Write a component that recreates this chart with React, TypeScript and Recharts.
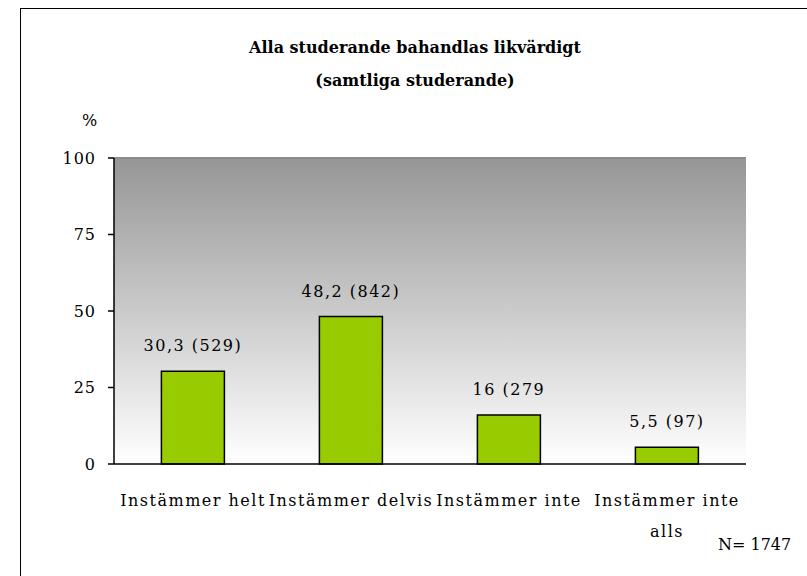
import { BarChart, Bar, XAxis, YAxis, CartesianGrid, LabelList, ReferenceLine } from 'recharts';

const categories = ['Instämmer helt', 'Instämmer delvis', 'Instämmer inte', 'Instämmer inte\nalls'];
const percents = [30.3, 48.2, 16, 5.5];
const valueLabels = ['30,3 (529)', '48,2 (842)', '16 (279', '5,5 (97)'];
const yTicks = [0, 25, 50, 75, 100];
const boundaryTicks = [0, 1, 2, 3, 4];

const data = categories.map((name, i) => ({ name, value: percents[i], label: valueLabels[i] }));

const FONT = 'DejaVu Serif';

function CategoryTick(props: any) {
  const { x, y, payload } = props;
  const lines = String(payload.value).split('\n');
  return (
    <text x={x} y={y} textAnchor="middle" fontFamily={FONT} fontSize={16} letterSpacing={1.5} fill="#000">
      {lines.map((line, i) => (
        <tspan key={i} x={x} dy={i === 0 ? 42 : 31}>{line}</tspan>
      ))}
    </text>
  );
}

function ValueLabel(props: any) {
  const { x, y, width, value } = props;
  return (
    <text x={x + width / 2} y={y - 20} textAnchor="middle" fontFamily={FONT} fontSize={16} letterSpacing={1.5} fill="#000">
      {value}
    </text>
  );
}

export default function App() {
  return (
    <div style={{ position: 'absolute', left: 0, top: 0, width: 807, height: 576, overflow: 'hidden', background: '#fff' }}>
      {/* outer frame */}
      <div style={{ position: 'absolute', left: 20, top: 8, width: 820, height: 620, border: '1.5px solid #000' }} />

      <div style={{ position: 'absolute', left: 0, top: 31, width: 830, textAlign: 'center', fontFamily: FONT, fontWeight: 'bold', fontSize: 16, lineHeight: '33px' }}>
        Alla studerande bahandlas likvärdigt
        <br />
        (samtliga studerande)
      </div>
      <div style={{ position: 'absolute', left: 82, top: 111, fontFamily: FONT, fontSize: 16 }}>%</div>
      <div style={{ position: 'absolute', left: 718, top: 535, fontFamily: FONT, fontSize: 16 }}>N= 1747</div>

      <BarChart
        width={807}
        height={576}
        data={data}
        margin={{ top: 158, right: 61, bottom: 0, left: 0 }}
        barCategoryGap="30%"
        style={{ position: 'absolute', left: 0, top: 0 }}
      >
        <defs>
          <linearGradient id="bg" x1="0" y1="0" x2="0" y2="1">
            <stop offset="0%" stopColor="#969696" />
            <stop offset="100%" stopColor="#ffffff" />
          </linearGradient>
        </defs>
        <CartesianGrid horizontal={false} vertical={false} fill="url(#bg)" />
        <XAxis xAxisId="n" type="number" domain={[0, 4]} ticks={boundaryTicks} height={0} tick={false} axisLine={false} tickLine={{ stroke: '#000', strokeWidth: 1.5 }} tickSize={6} />
        <XAxis dataKey="name" height={112} tickLine={false} tickSize={0} tickMargin={0} interval={0} axisLine={{ stroke: '#000', strokeWidth: 1.5 }} tick={<CategoryTick />} />
        <YAxis
          domain={[0, 100]}
          ticks={yTicks}
          width={114}
          tickSize={6}
          tickMargin={12}
          axisLine={{ stroke: '#000', strokeWidth: 1.5 }}
          tickLine={{ stroke: '#000', strokeWidth: 1.5 }}
          tick={{ fill: '#000', fontFamily: FONT, fontSize: 16, letterSpacing: 1 }}
        />
        <ReferenceLine y={100} stroke="#8c8c8c" strokeWidth={2} />
        <ReferenceLine xAxisId="n" x={4} stroke="#8c8c8c" strokeWidth={2} />
        <Bar dataKey="value" fill="#99cc00" stroke="#000" strokeWidth={1.5} isAnimationActive={false}>
          <LabelList dataKey="label" content={<ValueLabel />} />
        </Bar>
      </BarChart>
    </div>
  );
}
